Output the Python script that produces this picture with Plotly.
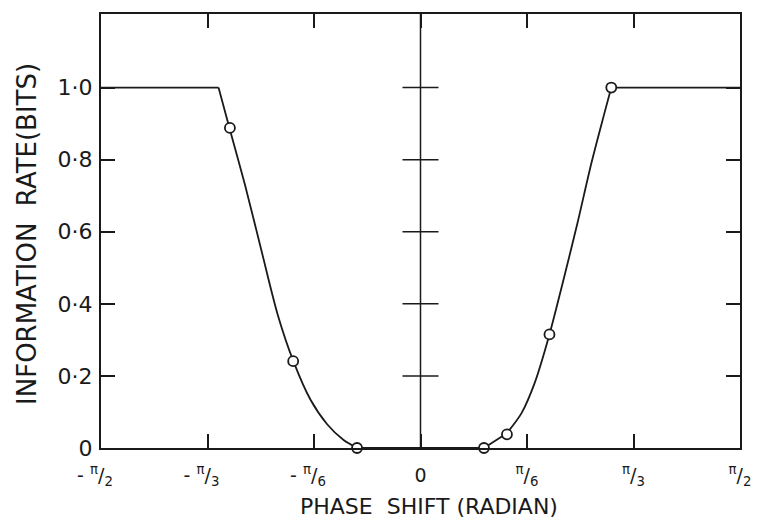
import math
import plotly.graph_objects as go

PI = math.pi

# Measured points (radian, bits)
point_x = [-0.937, -0.626, -0.312, 0.312, 0.425, 0.634, 0.938]
point_y = [0.888, 0.241, 0.0, 0.0, 0.038, 0.315, 1.0]

# Smooth fitted curve, left branch (falling) and right branch (rising)
left_flat_x = [-PI / 2, -0.993]
left_flat_y = [1.0, 1.0]
left_curve_x = [-0.993, -0.940, -0.863, -0.783, -0.702, -0.625, -0.540, -0.459, -0.378, -0.312]
left_curve_y = [1.0, 0.889, 0.730, 0.550, 0.370, 0.241, 0.133, 0.066, 0.022, 0.0]
zero_x = [-0.312, 0.312]
zero_y = [0.0, 0.0]
right_foot_x = [0.312, 0.423]
right_foot_y = [0.0, 0.040]
right_curve_x = [0.423, 0.496, 0.561, 0.634, 0.700, 0.770, 0.840, 0.900, 0.938]
right_curve_y = [0.040, 0.096, 0.180, 0.315, 0.460, 0.620, 0.790, 0.920, 1.0]
right_flat_x = [0.938, PI / 2]
right_flat_y = [1.0, 1.0]

# Axis ticks
x_tickvals = [-PI / 2, -PI / 3, -PI / 6, 0, PI / 6, PI / 3, PI / 2]
x_ticktext = [
    "- <sup>π</sup>/<sub>2</sub>\u00a0\u00a0",
    "- <sup>π</sup>/<sub>3</sub>\u00a0\u00a0",
    "- <sup>π</sup>/<sub>6</sub>\u00a0\u00a0",
    "0",
    "<sup>π</sup>/<sub>6</sub>",
    "<sup>π</sup>/<sub>3</sub>",
    "<sup>π</sup>/<sub>2</sub>",
]
y_tickvals = [0, 0.2, 0.4, 0.6, 0.8, 1.0]
y_ticktext = ["0", "0·2", "0·4", "0·6", "0·8", "1·0"]
center_tick_vals = [0.2, 0.4, 0.6, 0.8, 1.0]

FONT = "DejaVu Sans"
INK = "#1a1a1a"

fig = go.Figure()

straight = dict(color=INK, width=1.8)
smooth = dict(color=INK, width=1.8, shape="spline", smoothing=0.8)
fig.add_trace(go.Scatter(x=left_flat_x, y=left_flat_y, mode="lines", line=straight))
fig.add_trace(go.Scatter(x=left_curve_x, y=left_curve_y, mode="lines", line=smooth))
fig.add_trace(go.Scatter(x=zero_x, y=zero_y, mode="lines", line=straight))
fig.add_trace(go.Scatter(x=right_foot_x, y=right_foot_y, mode="lines", line=straight))
fig.add_trace(go.Scatter(x=right_curve_x, y=right_curve_y, mode="lines", line=smooth))
fig.add_trace(go.Scatter(x=right_flat_x, y=right_flat_y, mode="lines", line=straight))
fig.add_trace(go.Scatter(
    x=point_x, y=point_y, mode="markers", cliponaxis=False,
    marker=dict(symbol="circle", size=10, color="white",
                line=dict(color=INK, width=1.8)),
))

# Central vertical axis at zero phase shift with crossing ticks
fig.add_shape(type="line", xref="x", yref="paper", x0=0, x1=0, y0=0, y1=1,
              line=dict(color=INK, width=1.5), layer="below")
for v in center_tick_vals:
    fig.add_shape(type="line", xref="x", yref="y", xsizemode="pixel", xanchor=0,
                  x0=-18, x1=18, y0=v, y1=v,
                  line=dict(color=INK, width=1.5), layer="below")

fig.update_layout(
    width=763, height=521,
    margin=dict(l=101, r=15, t=14, b=73),
    paper_bgcolor="white", plot_bgcolor="white",
    showlegend=False,
    font=dict(family=FONT, color=INK),
    xaxis=dict(
        range=[-PI / 2, PI / 2], tickvals=x_tickvals, ticktext=x_ticktext,
        showgrid=False, zeroline=False,
        showline=True, linecolor=INK, linewidth=2, mirror="ticks",
        ticks="inside", ticklen=14, tickwidth=1.8, tickcolor=INK,
        ticklabelstandoff=9,
        tickfont=dict(size=19, family=FONT, color=INK),
    ),
    yaxis=dict(
        range=[0, 1.204], tickvals=y_tickvals, ticktext=y_ticktext,
        showgrid=False, zeroline=False,
        showline=True, linecolor=INK, linewidth=2, mirror="ticks",
        ticks="inside", ticklen=14, tickwidth=1.8, tickcolor=INK,
        ticklabelstandoff=2,
        tickfont=dict(size=22, family=FONT, color=INK),
    ),
    annotations=[
        dict(text="PHASE  SHIFT (RADIAN)", xref="paper", yref="paper",
             x=(433.5 - 101) / 647, y=-(507 - 448) / 434,
             xanchor="center", yanchor="middle", showarrow=False,
             font=dict(size=22, family=FONT, color=INK)),
        dict(text="INFORMATION  RATE(BITS)", xref="paper", yref="paper",
             x=-(101 - 26) / 647, y=(448 - 234) / 434, textangle=-90,
             xanchor="center", yanchor="middle", showarrow=False,
             font=dict(size=26, family=FONT, color=INK)),
    ],
)

fig.write_html("out.html")
